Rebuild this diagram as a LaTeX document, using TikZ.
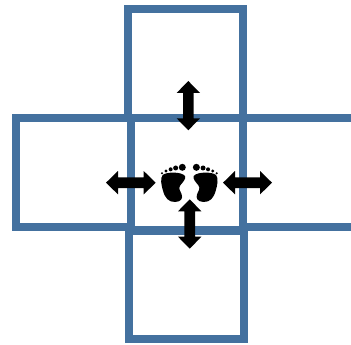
\documentclass[tikz,border=0pt]{standalone}
\definecolor{boxblue}{HTML}{44719F}
\tikzset{
  cell/.style={draw=boxblue,line width=8pt,fill=none,miter limit=10},
  dblarrow/.style={fill=black,draw=none},
}
\newcommand{\vertarrow}[3]{% x, top, bottom
  \fill[dblarrow] (#1,#2) -- (#1+11.7,#2+12) -- (#1+5.3,#2+12) -- (#1+5.3,#3-12) -- (#1+11.7,#3-12)
    -- (#1,#3) -- (#1-11.7,#3-12) -- (#1-5.3,#3-12) -- (#1-5.3,#2+12) -- (#1-11.7,#2+12) -- cycle;}
\newcommand{\horzarrow}[3]{% y, left, right
  \fill[dblarrow] (#2,#1) -- (#2+12,#1-11.7) -- (#2+12,#1-5.3) -- (#3-12,#1-5.3) -- (#3-12,#1-11.7)
    -- (#3,#1) -- (#3-12,#1+11.7) -- (#3-12,#1+5.3) -- (#2+12,#1+5.3) -- (#2+12,#1+11.7) -- cycle;}
\newcommand{\onefoot}{%
  \fill[black] (555,528) .. controls (545,515) and (500,515) .. (488,525)
    .. controls (480,535) and (484,556) .. (489,572)
    .. controls (495,594) and (506,607) .. (526,606)
    .. controls (544,605) and (549,595) .. (545,583)
    .. controls (541,572) and (534,566) .. (541,556)
    .. controls (549,546) and (559,536) .. (555,528) -- cycle;
  \fill[black] (547,502) circle (10.5);
  \fill[black] (527,504) circle (7.5);
  \fill[black] (512,508) circle (6);
  \fill[black] (498,513) circle (5);
  \fill[black] (486,520) circle (3.5);}
\begin{document}
\begin{tikzpicture}[x=1pt,y=-1pt]
  \useasboundingbox (0,0) rectangle (351,345);
  \clip (0,0) rectangle (351,345);
  \fill[white] (0,0) rectangle (351,345);
  \draw[cell] (128,8.7) rectangle (242.7,118);
  \draw[cell] (16,118) rectangle (130.5,227);
  \draw[cell] (242.7,118) -- (360,118) (360,227) -- (242.7,227);
  \draw[cell] (129.3,230.5) rectangle (243.7,339.3);
  \draw[cell] (130.5,118) rectangle (242.7,230);
  \vertarrow{188.3}{81}{130.3}
  \vertarrow{189.7}{199.3}{248.7}
  \horzarrow{182.7}{106}{155.7}
  \horzarrow{182.7}{223}{272}
  \begin{scope}[x=0.3333pt,y=-0.3333pt]
    \onefoot
  \end{scope}
  \begin{scope}[x=-0.3333pt,y=-0.3333pt,xshift=378.7pt]
    \onefoot
  \end{scope}
\end{tikzpicture}
\end{document}
